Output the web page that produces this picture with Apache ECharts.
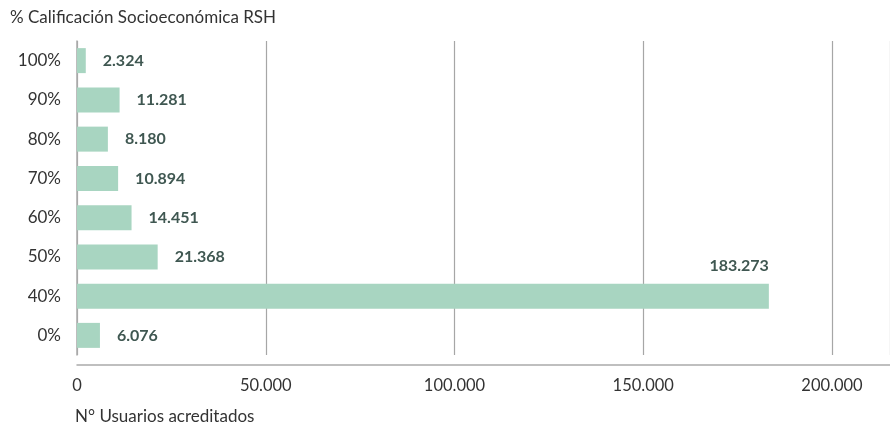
<!DOCTYPE html>
<html><head><meta charset="utf-8">
<script src="https://cdn.jsdelivr.net/npm/echarts@6/dist/echarts.min.js"></script>
<style>html,body{margin:0;padding:0;background:#fff}#c{width:890px;height:431px}</style>
</head><body><div id="c"></div>
<script>
var categories = ['0%', '40%', '50%', '60%', '70%', '80%', '90%', '100%'];
var usuarios = [6076, 183273, 21368, 14451, 10894, 8180, 11281, 2324];
var xTicks = [0, 50000, 100000, 150000, 200000];
var yTitle = '% Calificación Socioeconómica RSH';
var xTitle = 'N° Usuarios acreditados';

function fmt(v) { return String(v).replace(/\B(?=(\d{3})+(?!\d))/g, '.'); }
var FONT = 'Lato';
var maxIdx = usuarios.indexOf(Math.max.apply(null, usuarios));
var seriesData = usuarios.map(function (v, i) {
  if (i === maxIdx) {
    return { value: v, label: { position: ['100%', -18], align: 'right', verticalAlign: 'middle' } };
  }
  return v;
});
var chart = echarts.init(document.getElementById('c'));
chart.setOption({
  animation: false,
  title: [
    { text: yTitle, left: 5, top: 4, textStyle: { fontFamily: FONT, fontSize: 17, fontWeight: 'normal', color: '#333' } },
    { text: xTitle, left: 70, top: 403, textStyle: { fontFamily: FONT, fontSize: 17, fontWeight: 'normal', color: '#333' } }
  ],
  grid: { left: 77, right: 0, top: 41, height: 314, containLabel: false },
  xAxis: {
    type: 'value', min: xTicks[0], max: 215364, interval: 50000, offset: 10,
    axisLine: { show: true, lineStyle: { color: '#aaa', width: 1.5 } },
    axisTick: { show: false },
    splitLine: { show: true, lineStyle: { color: '#a6a6a6', width: 1.2 } },
    axisLabel: { fontFamily: FONT, fontSize: 16.5, color: '#333', margin: 12, showMaxLabel: false,
      formatter: function (v) { return xTicks.indexOf(v) >= 0 ? fmt(v) : ''; } }
  },
  yAxis: {
    type: 'category', data: categories,
    axisLine: { show: true, lineStyle: { color: '#aaa', width: 1.5 } },
    axisTick: { show: false },
    axisLabel: { fontFamily: FONT, fontSize: 17, color: '#333', margin: 16 }
  },
  series: [{
    type: 'bar', data: seriesData, barWidth: 25,
    itemStyle: { color: '#a8d5c1' },
    label: { show: true, position: 'right', distance: 17, fontFamily: FONT, fontSize: 16, fontWeight: 'bold', color: '#3f5751',
      formatter: function (p) { return fmt(p.value); } }
  }]
});
</script></body></html>
